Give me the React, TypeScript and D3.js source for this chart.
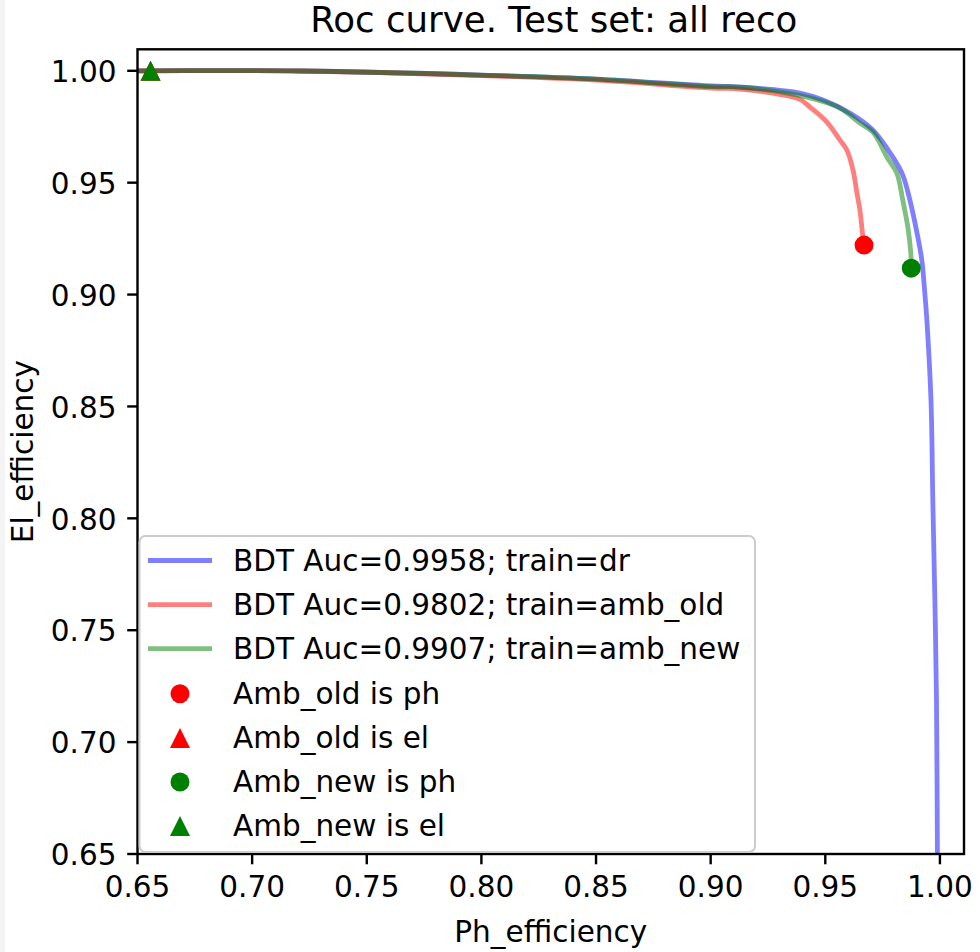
import React from "react";
import * as d3 from "d3";

// ---- Data ----
const xTicks = [0.65, 0.7, 0.75, 0.8, 0.85, 0.9, 0.95, 1.0];
const yTicks = [0.65, 0.7, 0.75, 0.8, 0.85, 0.9, 0.95, 1.0];

const blueX = [0.6, 0.65, 0.7209, 0.7998, 0.85, 0.9001, 0.9128, 0.9389, 0.949, 0.9607, 0.9708, 0.9795, 0.9838, 0.9869, 0.99, 0.9921, 0.9934, 0.9943, 0.9961, 0.9969, 0.9978, 0.9985, 0.9989, 0.9992];
const blueY = [1.0, 1.0, 0.9999, 0.9981, 0.9963, 0.9932, 0.9927, 0.99, 0.9869, 0.9811, 0.9735, 0.9614, 0.9534, 0.9422, 0.9275, 0.9154, 0.9007, 0.8886, 0.8528, 0.8081, 0.7634, 0.7188, 0.65, 0.6];

const redX = [0.6, 0.65, 0.7209, 0.7998, 0.85, 0.9001, 0.9128, 0.93, 0.9389, 0.9433, 0.9507, 0.9564, 0.9594, 0.9621, 0.9638, 0.9651, 0.9664, 0.9669];
const redY = [1.0, 1.0, 0.9999, 0.9979, 0.9958, 0.9923, 0.9918, 0.9895, 0.9872, 0.9838, 0.9771, 0.969, 0.9646, 0.9556, 0.9453, 0.9378, 0.9257, 0.9221];

const greenX = [0.6, 0.65, 0.7209, 0.7998, 0.85, 0.9001, 0.9128, 0.942, 0.9564, 0.9651, 0.9708, 0.9769, 0.9812, 0.9838, 0.986, 0.9873, 0.9875];
const greenY = [1.0, 1.0, 0.9999, 0.9981, 0.9963, 0.9929, 0.9927, 0.9882, 0.9833, 0.9766, 0.9726, 0.9614, 0.9543, 0.9422, 0.9301, 0.9185, 0.9118];

const ambOldPh = [0.9669, 0.9221];
const ambOldEl = [0.6557, 1.0];
const ambNewPh = [0.9875, 0.9118];
const ambNewEl = [0.6557, 1.0];

const curveLabels = [
  "BDT Auc=0.9958; train=dr",
  "BDT Auc=0.9802; train=amb_old",
  "BDT Auc=0.9907; train=amb_new",
];
const markerLabels = ["Amb_old is ph", "Amb_old is el", "Amb_new is ph", "Amb_new is el"];

const W = 980;
const H = 952;
const L = 137.5, R = 964, T = 49.3, B = 854;
const FONT = "DejaVu Sans, Verdana, sans-serif";
const FS = 29.5;

const x = d3.scaleLinear().domain([0.65, 1.0105]).range([L, R]);
const y = d3.scaleLinear().domain([0.65, 1.0096]).range([B, T]);

const line = d3
  .line<[number, number]>()
  .x((d) => x(d[0]))
  .y((d) => y(d[1]))
  .curve(d3.curveCatmullRom.alpha(0.5));
const zip = (a: number[], b: number[]) => a.map((v, i) => [v, b[i]] as [number, number]);

const tri = (cx: number, cy: number, s = 10) =>
  `M${cx},${cy - s}L${cx - s},${cy + s}L${cx + s},${cy + s}Z`;

export default function App() {
  const series = [
    { pts: zip(blueX, blueY), color: "#0000ff" },
    { pts: zip(redX, redY), color: "#ff0000" },
    { pts: zip(greenX, greenY), color: "#008000" },
  ];
  const rowY0 = 560.5;
  const rowDy = 44.1;
  const markers = [
    { kind: "circle", color: "#ff0000" },
    { kind: "tri", color: "#ff0000" },
    { kind: "circle", color: "#008000" },
    { kind: "tri", color: "#008000" },
  ];
  return (
    <svg width={W} height={H} style={{ position: "absolute", left: 0, top: 0, background: "#fff" }} fontFamily={FONT}>
      <rect x={0} y={0} width={W} height={H} fill="#fff" />
      <rect x={0} y={0} width={5} height={H} fill="#f4f4f4" />
      <defs>
        <clipPath id="plot">
          <rect x={L} y={T} width={R - L} height={B - T} />
        </clipPath>
      </defs>
      <g clipPath="url(#plot)">
        {series.map((s, i) => (
          <path key={i} d={line(s.pts) || ""} fill="none" stroke={s.color} strokeOpacity={0.5} strokeWidth={4.8} strokeLinejoin="round" />
        ))}
        <circle cx={x(ambOldPh[0])} cy={y(ambOldPh[1])} r={9.5} fill="#ff0000" />
        <path d={tri(x(ambOldEl[0]), y(ambOldEl[1]))} fill="#ff0000" />
        <circle cx={x(ambNewPh[0])} cy={y(ambNewPh[1])} r={9.5} fill="#008000" />
        <path d={tri(x(ambNewEl[0]), y(ambNewEl[1]))} fill="#008000" />
      </g>
      {/* spines */}
      <rect x={L} y={T} width={R - L} height={B - T} fill="none" stroke="#000" strokeWidth={2.4} />
      {/* x ticks */}
      {xTicks.map((t) => (
        <g key={"x" + t}>
          <line x1={x(t)} x2={x(t)} y1={B} y2={B + 10.3} stroke="#000" strokeWidth={2.4} />
          <text x={x(t)} y={897} fontSize={FS} textAnchor="middle" fill="#000">
            {t.toFixed(2)}
          </text>
        </g>
      ))}
      {yTicks.map((t) => (
        <g key={"y" + t}>
          <line x1={L - 10.3} x2={L} y1={y(t)} y2={y(t)} stroke="#000" strokeWidth={2.4} />
          <text x={116.5} y={y(t) + 11.2} fontSize={FS} textAnchor="end" fill="#000">
            {t.toFixed(2)}
          </text>
        </g>
      ))}
      {/* title & labels */}
      <text x={(L + R) / 2 + 3} y={31.5} fontSize={35.6} textAnchor="middle" fill="#000">
        Roc curve. Test set: all reco
      </text>
      <text x={(L + R) / 2} y={942} fontSize={FS} textAnchor="middle" fill="#000">
        Ph_efficiency
      </text>
      <text transform={`translate(33,${(T + B) / 2}) rotate(-90)`} fontSize={FS} textAnchor="middle" fill="#000">
        El_efficiency
      </text>
      {/* legend */}
      <g>
        <rect x={139.5} y={536} width={615.5} height={316} rx={6} ry={6} fill="#fff" fillOpacity={0.8} stroke="#cccccc" strokeWidth={2} />
        {curveLabels.map((lab, i) => {
          const cy = rowY0 + i * rowDy;
          return (
            <g key={lab}>
              <line x1={148} x2={212} y1={cy} y2={cy} stroke={series[i].color} strokeOpacity={0.5} strokeWidth={4.8} />
              <text x={233} y={cy + 10.7} fontSize={FS} fill="#000">
                {lab}
              </text>
            </g>
          );
        })}
        {markerLabels.map((lab, j) => {
          const cy = rowY0 + (j + 3) * rowDy;
          const m = markers[j];
          return (
            <g key={lab}>
              {m.kind === "circle" ? (
                <circle cx={180} cy={cy + 1} r={9.5} fill={m.color} />
              ) : (
                <path d={tri(180, cy + 1)} fill={m.color} />
              )}
              <text x={233} y={cy + 10.7} fontSize={FS} fill="#000">
                {lab}
              </text>
            </g>
          );
        })}
      </g>
    </svg>
  );
}
